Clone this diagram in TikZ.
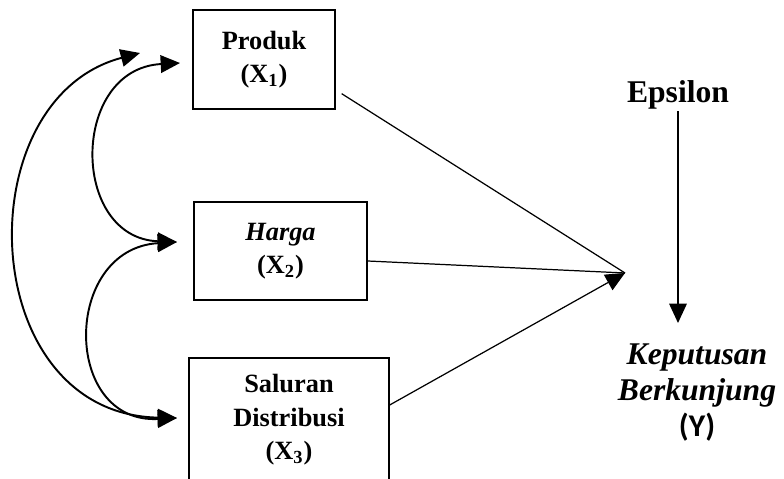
\documentclass[tikz,border=0pt]{standalone}
\usepackage{fontspec}
\setmainfont{Liberation Serif}
\newfontfamily\calibri{Carlito}
\usepackage{tikz}
\usetikzlibrary{arrows.meta,positioning}

\tikzset{
  panah/.tip={Triangle[length=11pt,width=10pt]},
}

\begin{document}
\begin{tikzpicture}[x=0.02cm, y=-0.02cm,
  every box/.style={draw, line width=0.8pt, align=center, inner sep=0pt,
    font=\fontsize{15}{19}\selectfont\bfseries},
  big text/.style={align=center, inner sep=1pt,
    font=\fontsize{18}{20.5}\selectfont\bfseries},
  link/.style={line width=0.7pt},
  korelasi/.style={panah-panah, line width=1.1pt}]

\useasboundingbox (0,0) rectangle (784,479);

% variabel bebas
\node [every box, minimum width=2.84cm, minimum height=1.98cm] (produk) at (264,59.5)
  {Produk\\(X\textsubscript{1})};
\node [every box, minimum width=3.46cm, minimum height=1.96cm] (harga) at (280.5,251)
  {\textit{Harga}\\(X\textsubscript{2})};
\node [every box, minimum width=4cm, minimum height=2.48cm] (distribusi) at (289,420)
  {Saluran\\Distribusi\\(X\textsubscript{3})};

% variabel terikat
\node [big text] (epsilon) at (678,95) {Epsilon};
\node [big text] (keputusan) at (697,393)
  {\textit{Keputusan}\\\textit{Berkunjung}\\{\calibri (Y)}};

\coordinate (titik) at (625,273);
\coordinate (ytop) at (678,323);

\draw [link] ([xshift=0.12cm, yshift=0.32cm]produk.south east) -- (titik);
\draw [link] ([yshift=-0.2cm]harga.east) -- (titik);
\draw [link, -panah] ([yshift=0.3cm]distribusi.east) -- (titik);

\draw [-panah, line width=0.8pt] (epsilon.south) -- (ytop);

% korelasi antar variabel bebas
\coordinate (kiri-1) at (140,53);
\coordinate (kiri-2) at (180,63);
\coordinate (kiri-3) at (177,242);
\coordinate (kiri-4) at (177,418);

\draw [korelasi] (kiri-1) .. controls (-35,99) and (-25,414) .. (kiri-4);
\draw [korelasi] (kiri-2) .. controls (70,69) and (70,238) .. (kiri-3);
\draw [korelasi] (kiri-3) .. controls (62,249) and (62,424) .. (kiri-4);

\end{tikzpicture}
\end{document}
